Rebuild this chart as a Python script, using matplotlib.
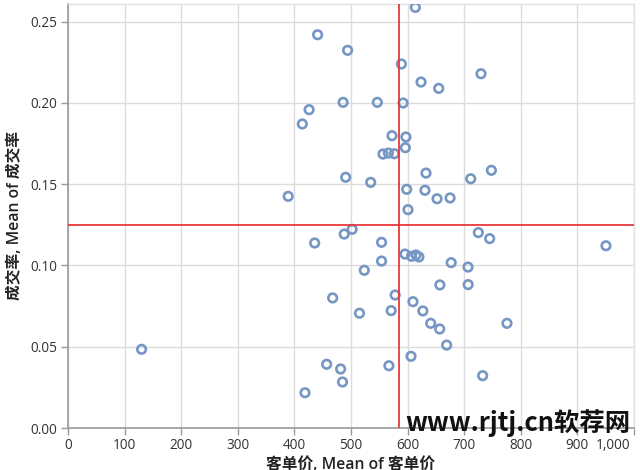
import matplotlib
matplotlib.use("Agg")
import matplotlib.pyplot as plt
from matplotlib.transforms import ScaledTranslation

plt.rcParams['font.family'] = ['Open Sans', 'Noto Sans CJK SC', 'DejaVu Sans']

# 客单价 (mean) values
price = [441, 494, 486, 426, 414, 490.6, 389, 488, 502, 613.7,
         589, 729.7, 623.7, 655, 546.5, 592, 572.4, 597, 596, 556.5,
         566, 576.6, 632.5, 534.8, 711.5, 748, 598.4, 630.7, 652, 675,
         600.7, 725, 745, 435.8, 467.6, 515, 130, 457, 481.7, 485,
         418.7, 950.5, 554, 595.4, 607, 614.8, 620, 554, 677, 706.7,
         523.5, 657, 707, 578, 609.5, 571, 627, 640.8, 656.7, 775.6,
         669, 606, 567, 732.6]
# 成交率 (mean) values
rate = [0.2419, 0.2323, 0.2003, 0.1958, 0.1870, 0.1542, 0.1425, 0.1193, 0.1222, 0.2587,
        0.2239, 0.2179, 0.2128, 0.2089, 0.2003, 0.1999, 0.1798, 0.1790, 0.1724, 0.1685,
        0.1691, 0.1687, 0.1568, 0.1511, 0.1533, 0.1585, 0.1468, 0.1462, 0.1410, 0.1415,
        0.1343, 0.1202, 0.1165, 0.1138, 0.0800, 0.0706, 0.0484, 0.0392, 0.0363, 0.0283,
        0.0217, 0.1121, 0.1142, 0.1070, 0.1056, 0.1064, 0.1052, 0.1027, 0.1017, 0.0990,
        0.0970, 0.0880, 0.0882, 0.0818, 0.0777, 0.0722, 0.0720, 0.0644, 0.0609, 0.0644,
        0.0510, 0.0441, 0.0383, 0.0322]

ref_price = 584
ref_rate = 0.125

x_ticks = [0, 100, 200, 300, 400, 500, 600, 700, 800, 900, 1000]
x_tick_labels = ['0', '100', '200', '300', '400', '500', '600', '700', '800', '900', '1,000']
y_ticks = [0.00, 0.05, 0.10, 0.15, 0.20, 0.25]
y_tick_labels = ['0.00', '0.05', '0.10', '0.15', '0.20', '0.25']

fig = plt.figure(figsize=(6.4, 4.7), dpi=100)
ax = fig.add_axes([68/640, 1 - 428/470, (634-68)/640, (428-4)/470])

ax.scatter(price, rate, s=38, facecolors='none', edgecolors='#7696c4',
           linewidths=1.9, zorder=3)
ax.axvline(ref_price, color='#e8393b', lw=1.3, zorder=4)
ax.axhline(ref_rate, color='#e8393b', lw=1.3, zorder=4)

ax.set_xlim(0, 1000)
ax.set_ylim(0, 0.2608)
ax.set_xticks(x_ticks)
ax.set_xticklabels(x_tick_labels)
ax.set_yticks(y_ticks)
ax.set_yticklabels(y_tick_labels)
ax.grid(True, color='#dcdcdc', lw=1.0, zorder=0)
ax.set_axisbelow(True)
ax.tick_params(axis='both', colors='#9a9a9a', labelcolor='#333333',
               labelsize=9.8, length=5, width=1, pad=2.5)
for side in ['left', 'bottom']:
    ax.spines[side].set_color('#9a9a9a')
    ax.spines[side].set_linewidth(1.2)
for side in ['top', 'right']:
    ax.spines[side].set_color('#e0e0e0')
    ax.spines[side].set_linewidth(1.0)

# keep the last x tick label inside the figure, as in the reference
last = ax.get_xticklabels()[-1]
last.set_horizontalalignment('right')
last.set_transform(last.get_transform() + ScaledTranslation(-4/100, 0, fig.dpi_scale_trans))

fig.text(351/640, 1 - 457/470, '客单价, Mean of 客单价', ha='center', va='top',
         fontsize=11.3, color='#222222', fontweight='semibold')
fig.text(15/640, 1 - 215/470, '成交率, Mean of 成交率', ha='center', va='center',
         rotation=90, fontsize=11.3, color='#222222', fontweight='semibold')

fig.text(630/640, 1 - 423/470, 'www.rjtj.cn软荐网', ha='right', va='center',
         fontsize=18.3, color='#111111', fontweight='bold', zorder=10,
         family=['Noto Sans CJK SC', 'DejaVu Sans'])

fig.savefig('out.png', dpi=100)
